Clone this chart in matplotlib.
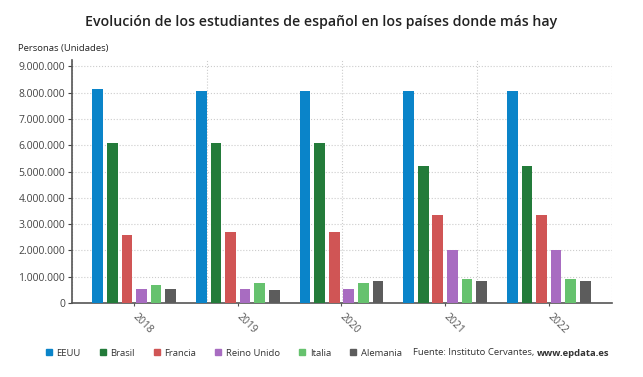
import numpy as np
from matplotlib import pyplot as plt
from matplotlib.lines import Line2D
from matplotlib.ticker import FuncFormatter, MultipleLocator

plt.rcParams['font.family'] = ['Open Sans', 'DejaVu Sans']

years = ['2018', '2019', '2020', '2021', '2022']
countries = ['EEUU', 'Brasil', 'Francia', 'Reino Unido', 'Italia', 'Alemania']
colors = ['#0a84c9', '#237b3a', '#d05555', '#a86cc1', '#66c26e', '#5c5c5c']

# estudiantes por pais (aprox.)
eeuu = [8140000, 8070000, 8070000, 8070000, 8070000]
brasil = [6100000, 6100000, 6100000, 5220000, 5220000]
francia = [2590000, 2700000, 2700000, 3330000, 3330000]
reino_unido = [530000, 530000, 530000, 2010000, 2010000]
italia = [680000, 760000, 760000, 900000, 900000]
alemania = [550000, 510000, 820000, 820000, 820000]
series = [eeuu, brasil, francia, reino_unido, italia, alemania]

fig = plt.figure(figsize=(6.43, 3.77), dpi=100)
ax = fig.add_axes([72/643, 1-303/377, 540/643, 243/377])

x = np.arange(len(years))
step = 0.141
width = 0.103
for i, (vals, c) in enumerate(zip(series, colors)):
    ax.bar(x + (i - 2.5)*step, vals, width, color=c, zorder=3)

xmin, xmax = -0.6, 4.61
ax.set_xlim(xmin, xmax)
ax.set_ylim(0, 9240000)
ax.yaxis.set_major_locator(MultipleLocator(1000000))
ax.yaxis.set_major_formatter(FuncFormatter(lambda v, p: f'{int(v):,}'.replace(',', '.')))
ax.set_xticks(x)
ax.set_xticklabels(years, rotation=-45, ha='left', va='center', rotation_mode='anchor')
ax.set_xticks(np.linspace(xmin, xmax, 5), minor=True)
ax.tick_params(axis='x', which='minor', length=0)
ax.tick_params(axis='x', which='major', length=2, pad=7, labelsize=7.5, colors='#555555')
ax.tick_params(axis='y', length=3, labelsize=7.5, colors='#444444', pad=2)
ax.grid(axis='y', which='major', color='#cccccc', linestyle=':', linewidth=0.8, zorder=0)
ax.grid(axis='x', which='minor', color='#cccccc', linestyle=':', linewidth=0.8, zorder=0)

for s in ['top', 'right']:
    ax.spines[s].set_visible(False)
for s in ['left', 'bottom']:
    ax.spines[s].set_color('#555555')
    ax.spines[s].set_linewidth(1.2)

fig.text(0.5, 1-22/377, 'Evolución de los estudiantes de español en los países donde más hay',
         ha='center', va='center', fontsize=10.2, fontweight='semibold', color='#222222')
fig.text(18/643, 1-48/377, 'Personas (Unidades)', ha='left', va='center', fontsize=6.8, color='#222222')

handles = [Line2D([], [], marker='s', linestyle='none', color=c, markersize=5) for c in colors]
fig.legend(handles, countries, loc='center left', bbox_to_anchor=(40/643, 1-353/377), ncol=6,
           frameon=False, fontsize=6.8, handlelength=0.8, handletextpad=0.4, columnspacing=1.95,
           labelcolor='#333333', borderpad=0)

fig.text(537/643, 1-353/377, 'Fuente: Instituto Cervantes, ', ha='right', va='center', fontsize=6.8, color='#333333')
fig.text(537/643, 1-353/377, 'www.epdata.es', ha='left', va='center', fontsize=6.8, fontweight='bold', color='#333333')

fig.savefig('out.png', dpi=100)
